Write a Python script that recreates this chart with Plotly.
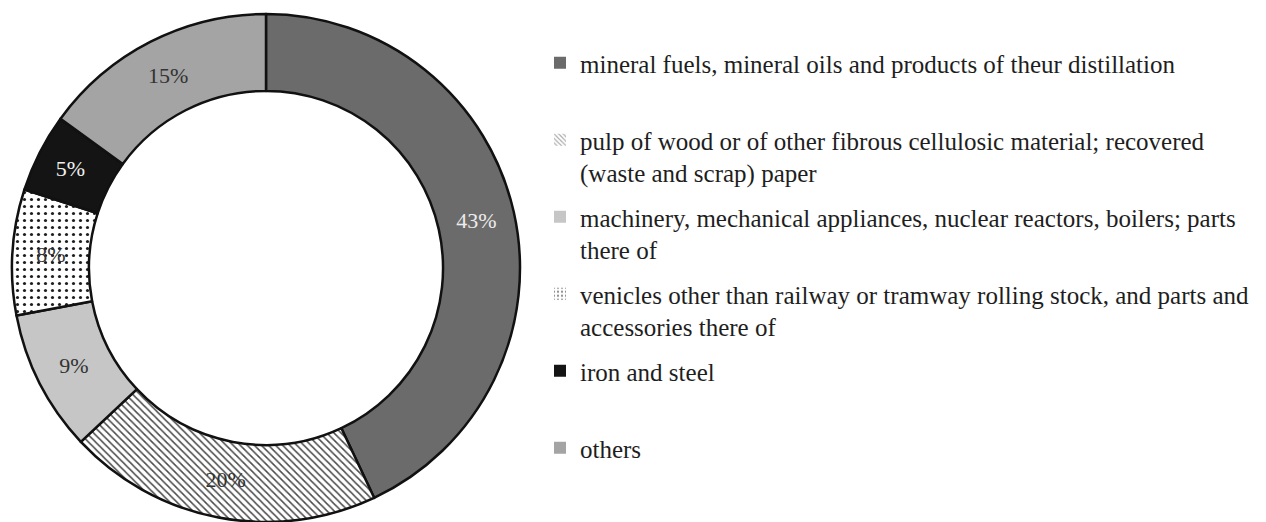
import plotly.graph_objects as go

# Export structure by commodity group (share of total, %)
labels = [
    "mineral fuels, mineral oils and products of theur distillation",
    "pulp of wood or of other fibrous cellulosic material; recovered<br>(waste and scrap) paper",
    "machinery, mechanical appliances, nuclear reactors, boilers; parts<br>there of",
    "venicles other than railway or tramway rolling stock, and parts and<br>accessories there of",
    "iron and steel",
    "others",
]
shares = [43, 20, 9, 8, 5, 15]

fill_colors = ["#6b6b6b", "#ffffff", "#c6c6c6", "#ffffff", "#141414", "#a4a4a4"]
pattern_shapes = ["", "\\", "", ".", "", ""]
pattern_fg = ["#6b6b6b", "#4a4a4a", "#c6c6c6", "#1e1e1e", "#141414", "#a4a4a4"]
label_colors = ["#ececec", "#333333", "#333333", "#333333", "#f0f0f0", "#333333"]

W, H = 1266, 522
SERIF = "Liberation Serif, Times New Roman, serif"

fig = go.Figure()

fig.add_trace(go.Pie(
    labels=labels,
    values=shares,
    sort=False,
    direction="clockwise",
    rotation=0,
    hole=0.697,
    domain=dict(x=[12 / W, 520 / W], y=[0, 508 / H]),
    marker=dict(
        colors=fill_colors,
        line=dict(color="#111111", width=2.5),
        pattern=dict(
            shape=pattern_shapes,
            fgcolor=pattern_fg,
            bgcolor=fill_colors,
            size=[6, 5, 6, 7, 6, 6],
            solidity=[0.3, 0.3, 0.3, 0.16, 0.3, 0.3],
        ),
    ),
    textinfo="percent",
    textposition="inside",
    insidetextorientation="horizontal",
    textfont=dict(family=SERIF, size=22, color=label_colors),
    showlegend=False,
    hoverinfo="label+percent",
))

# Legend keys: one entry per commodity group, each in its own group so the
# entries are spaced evenly down the right-hand side.
for i, name in enumerate(labels):
    text = name if "<br>" in name else name + "<br> "
    fig.add_trace(go.Bar(
        x=[None], y=[None],
        name=text,
        legendgroup=f"g{i}",
        marker=dict(
            color=fill_colors[i],
            line=dict(width=0),
            pattern=dict(
                shape=pattern_shapes[i],
                fgcolor=pattern_fg[i],
                bgcolor=fill_colors[i],
                size=4 if pattern_shapes[i] == "\\" else 5,
                solidity=0.35 if pattern_shapes[i] == "\\" else 0.25,
            ),
        ),
        showlegend=True,
        hoverinfo="skip",
    ))

fig.update_layout(
    width=W,
    height=H,
    margin=dict(l=0, r=0, t=0, b=0),
    paper_bgcolor="white",
    plot_bgcolor="white",
    xaxis=dict(visible=False),
    yaxis=dict(visible=False),
    showlegend=True,
    legend=dict(
        x=540 / W,
        y=1 - 40 / H,
        xanchor="left",
        yanchor="top",
        valign="top",
        tracegroupgap=9,
        font=dict(family=SERIF, size=25, color="#1e1e1e"),
        bgcolor="rgba(0,0,0,0)",
    ),
)

fig.write_html("out.html")
